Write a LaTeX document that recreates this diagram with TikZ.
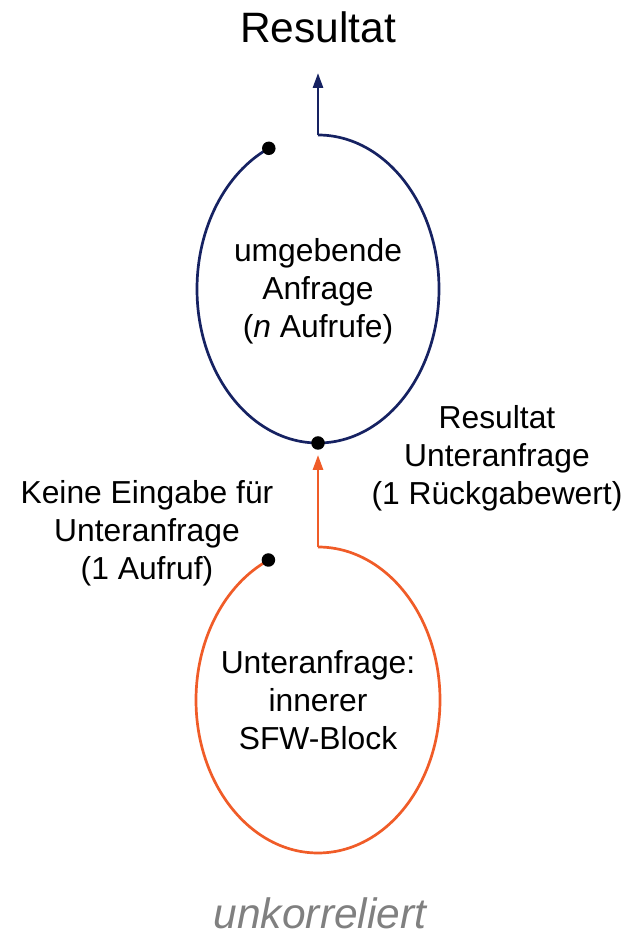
\documentclass[tikz,border=0pt]{standalone}
\usepackage{fontspec}
\setmainfont{Liberation Sans}
\usetikzlibrary{arrows.meta}
\definecolor{navy}{RGB}{22,34,98}
\definecolor{orng}{RGB}{240,92,40}
\definecolor{grey}{RGB}{128,128,128}
\begin{document}
\begin{tikzpicture}[x=1pt,y=1pt,
  lbl/.style={align=center,font=\fontsize{31.8}{38}\selectfont,inner sep=0pt},
  dotm/.style={circle,fill=black,inner sep=0pt,minimum size=13.5pt},
  conn/.style={line width=2.7pt,-{Triangle[length=15pt,width=10pt]}}]
\useasboundingbox (0,0) rectangle (635,939);
% outer query loop
\coordinate (ntop) at (318,804);
\draw[navy,line width=2.7pt] (ntop) arc[start angle=90,end angle=-246,x radius=121,y radius=154];
\node[dotm] (ndot) at (268.8,790.7) {};
\node[dotm] (nbot) at (318,496) {};
\coordinate (resend) at (318,866);
\draw[conn,navy] (ntop) -- (resend);
\node[lbl] (restop) at (318,912) {\fontsize{42.5}{50}\selectfont Resultat};
\node[lbl] (ninner) at (318,648) {umgebende\\Anfrage\\(\textit{n} Aufrufe)};
% inner query loop
\coordinate (otop) at (318,392);
\draw[orng,line width=2.7pt] (otop) arc[start angle=90,end angle=-246,x radius=122,y radius=153];
\node[dotm] (odot) at (268.4,379) {};
\draw[conn,orng,shorten >=5pt] (otop) -- (nbot);
\node[lbl] (oinner) at (318,239) {Unteranfrage:\\innerer\\SFW-Block};
\node[lbl] (left) at (147,406) {Keine Eingabe für\\Unteranfrage\\(1 Aufruf)};
\node[lbl] (right) at (497,481) {Resultat\\Unteranfrage\\(1 Rückgabewert)};
\node[lbl,text=grey] (foot) at (320,26) {\fontsize{42.5}{50}\selectfont\itshape unkorreliert};
\end{tikzpicture}
\end{document}
